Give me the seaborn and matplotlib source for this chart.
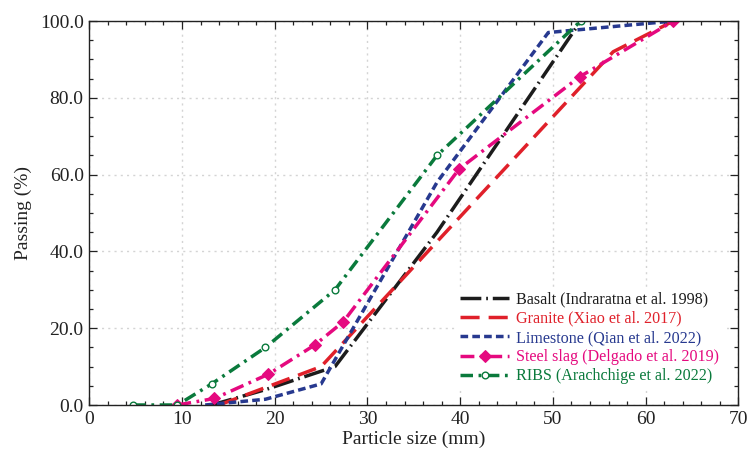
import matplotlib
matplotlib.use("Agg")
import matplotlib.pyplot as plt
import seaborn as sns
import pandas as pd
from matplotlib.ticker import MultipleLocator, FormatStrFormatter

# ---- data ----
basalt_x = [13.2, 19.0, 26.5, 37.5, 53.0]
basalt_y = [0.0, 4.0, 10.0, 45.0, 100.0]

granite_x = [14.0, 25.0, 56.5, 63.0]
granite_y = [0.0, 10.0, 92.0, 100.0]

limestone_x = [12.5, 19.0, 25.0, 37.5, 49.5, 63.0]
limestone_y = [0.0, 1.5, 5.5, 58.0, 97.0, 100.0]

steel_x = [9.5, 13.5, 19.3, 24.3, 27.4, 39.9, 52.9, 63.0]
steel_y = [0.0, 1.7, 8.0, 15.6, 21.7, 61.5, 85.5, 100.0]

ribs_x = [4.75, 9.5, 13.2, 19.0, 26.5, 37.5, 53.0]
ribs_y = [0.0, 0.0, 5.5, 15.0, 30.0, 65.0, 100.0]

labels = ["Basalt (Indraratna et al. 1998)",
          "Granite (Xiao et al. 2017)",
          "Limestone (Qian et al. 2022)",
          "Steel slag (Delgado et al. 2019)",
          "RIBS (Arachchige et al. 2022)"]

colors = ["#1c1c1c", "#e0202a", "#27398f", "#e5097f", "#0a7a3c"]

sns.set_theme(style="ticks")
plt.rcParams["font.family"] = ["Liberation Serif", "DejaVu Serif"]
plt.rcParams["mathtext.fontset"] = "stix"

fig = plt.figure(figsize=(7.47, 4.5), dpi=100)
ax = fig.add_axes([0.1195, 0.1, 0.8690, 0.8533])

series = [
    (basalt_x, basalt_y, dict(linestyle=(0, (6, 1.4, 0.5, 1.4)), marker=None)),
    (granite_x, granite_y, dict(linestyle=(0, (5.5, 2.6)), marker=None)),
    (limestone_x, limestone_y, dict(linestyle=(0, (2.2, 1.2)), marker=None)),
    (steel_x, steel_y, dict(linestyle=(0, (4.0, 1.6, 0.8, 1.6)), marker="D",
                            markersize=6.5)),
    (ribs_x, ribs_y, dict(linestyle=(0, (3.6, 1.6, 0.8, 1.6)), marker="o",
                          markersize=4.8, markerfacecolor="white",
                          markeredgewidth=1.0)),
]

for (xs, ys, kw), lab, col in zip(series, labels, colors):
    df = pd.DataFrame({"x": xs, "y": ys})
    sns.lineplot(data=df, x="x", y="y", ax=ax, color=col, linewidth=2.5,
                 label=lab, sort=False, estimator=None,
                 markeredgecolor=col, **kw)

ax.set_xlim(0, 70)
ax.set_ylim(0, 100)
ax.xaxis.set_major_locator(MultipleLocator(10))
ax.xaxis.set_minor_locator(MultipleLocator(2))
ax.yaxis.set_major_locator(MultipleLocator(20))
ax.yaxis.set_minor_locator(MultipleLocator(5))
ax.yaxis.set_major_formatter(FormatStrFormatter("%.1f"))

ax.grid(True, which="major", linestyle=(0, (1.5, 3)), color="#d4d4d4", linewidth=1.0)
ax.set_axisbelow(True)

ax.tick_params(which="both", direction="in", top=True, right=True,
               labelsize=14, colors="#222222", width=0.9)
ax.tick_params(which="major", length=6, pad=4)
ax.tick_params(which="minor", length=3)
for sp in ax.spines.values():
    sp.set_color("#222222")
    sp.set_linewidth(1.0)

ax.set_xlabel("Particle size (mm)", fontsize=14, color="#222222", labelpad=2)
ax.set_ylabel("Passing (%)", fontsize=14, color="#222222", labelpad=6)

leg = ax.legend(loc="lower right", bbox_to_anchor=(0.99, 0.02), fontsize=11.6,
                frameon=True, facecolor="white", edgecolor="none", framealpha=1,
                handlelength=3.0, handletextpad=0.45, labelspacing=0.2,
                borderpad=0.3, labelcolor="linecolor")

fig.savefig("out.png", dpi=100)
